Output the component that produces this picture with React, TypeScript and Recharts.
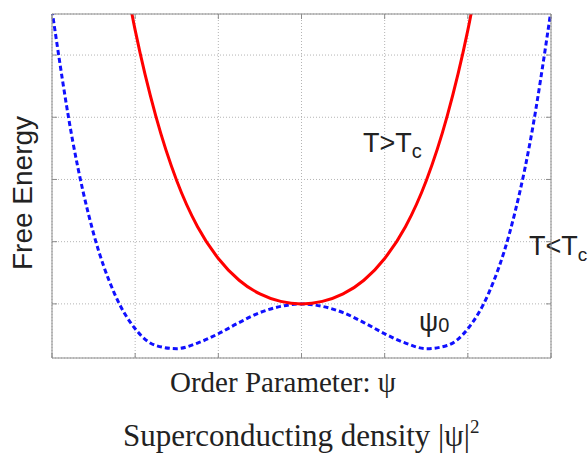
import React from 'react';
import { LineChart, Line, CartesianGrid, XAxis, YAxis, Customized } from 'recharts';

// order parameter psi (x axis)
const psiValues = [
  -3, -2.75, -2.5, -2.25, -2, -1.75, -1.5, -1.25, -1, -0.75, -0.5, -0.25,
  0, 0.25, 0.5, 0.75, 1, 1.25, 1.5, 1.75, 2, 2.25, 2.5, 2.75, 3,
];
// free energy above Tc (single well)
const energyAbove = [
  null, null, null, 6.24, 4.4, 3.01, 1.98, 1.24, 0.73, 0.38, 0.16, 0.04,
  0, 0.04, 0.16, 0.38, 0.73, 1.24, 1.98, 3.01, 4.4, 6.24, null, null, null,
];
// free energy below Tc (double well)
const energyBelow = [
  4.72, 2.61, 1.13, 0.17, -0.4, -0.67, -0.72, -0.63, -0.48, -0.3, -0.14, -0.04,
  0, -0.04, -0.14, -0.3, -0.48, -0.63, -0.72, -0.67, -0.4, 0.17, 1.13, 2.61, 4.72,
];
const xTicks = [-3, -2, -1, 0, 1, 2, 3];
const yTicks = [0, 1, 2, 3, 4];

const data = psiValues.map((psi, i) => ({
  psi,
  above: energyAbove[i],
  below: energyBelow[i],
}));

const axisColor = '#8c8c8c';
const textColor = '#222';
const noLabel = () => '';

const Annotations = () => (
  <g>
    <text x={32} y={193} transform="rotate(-90, 32, 193)" textAnchor="middle"
      fontFamily="Liberation Sans, Arial, sans-serif" fontSize={28} fill={textColor}>
      Free Energy
    </text>
    <text x={363} y={152} fontFamily="Liberation Sans, Arial, sans-serif" fontSize={27} fill={textColor}>
      T&gt;T<tspan fontSize={20} dy={6}>c</tspan>
    </text>
    <text x={529} y={255} fontFamily="Liberation Sans, Arial, sans-serif" fontSize={27} fill={textColor}>
      T&lt;T<tspan fontSize={19} dy={6}>c</tspan>
    </text>
    <text x={419} y={331} fontFamily="Liberation Sans, Arial, sans-serif" fontSize={27} fill={textColor}>
      ψ<tspan fontSize={20} dy={1}>0</tspan>
    </text>
    <text x={170} y={392} fontFamily="Liberation Serif, Times New Roman, serif" fontSize={29} fill={textColor}>
      Order Parameter: ψ
    </text>
    <text x={123} y={446} fontFamily="Liberation Serif, Times New Roman, serif" fontSize={31} fill={textColor}>
      Superconducting density |ψ|<tspan fontSize={19} dy={-13}>2</tspan>
    </text>
  </g>
);

export default function App() {
  return (
    <div style={{ position: 'absolute', left: 0, top: 0, background: '#fff' }}>
      <LineChart width={588} height={454} data={data}
        margin={{ top: 14, right: 37, bottom: 96, left: 52 }}>
        <CartesianGrid stroke="#b4b4b4" strokeDasharray="1 2" />
        <XAxis dataKey="psi" type="number" domain={[-3, 3]} ticks={xTicks}
          tickFormatter={noLabel} mirror tickSize={5} stroke={axisColor} />
        <XAxis xAxisId="top" orientation="top" dataKey="psi" type="number" domain={[-3, 3]}
          ticks={xTicks} tickFormatter={noLabel} mirror tickSize={5} stroke={axisColor} />
        <YAxis type="number" domain={[-0.87, 4.66]} ticks={yTicks} allowDataOverflow
          tickFormatter={noLabel} mirror tickSize={5} stroke={axisColor} />
        <YAxis yAxisId="right" orientation="right" type="number" domain={[-0.87, 4.66]}
          ticks={yTicks} allowDataOverflow tickFormatter={noLabel} mirror tickSize={5} stroke={axisColor} />
        <Line type="monotone" dataKey="below" stroke="#1010ff" strokeWidth={3}
          strokeDasharray="5 3" dot={false} isAnimationActive={false} />
        <Line type="monotone" dataKey="above" stroke="#ff0000" strokeWidth={3}
          dot={false} connectNulls={false} isAnimationActive={false} />
        <Customized component={Annotations} />
      </LineChart>
    </div>
  );
}
